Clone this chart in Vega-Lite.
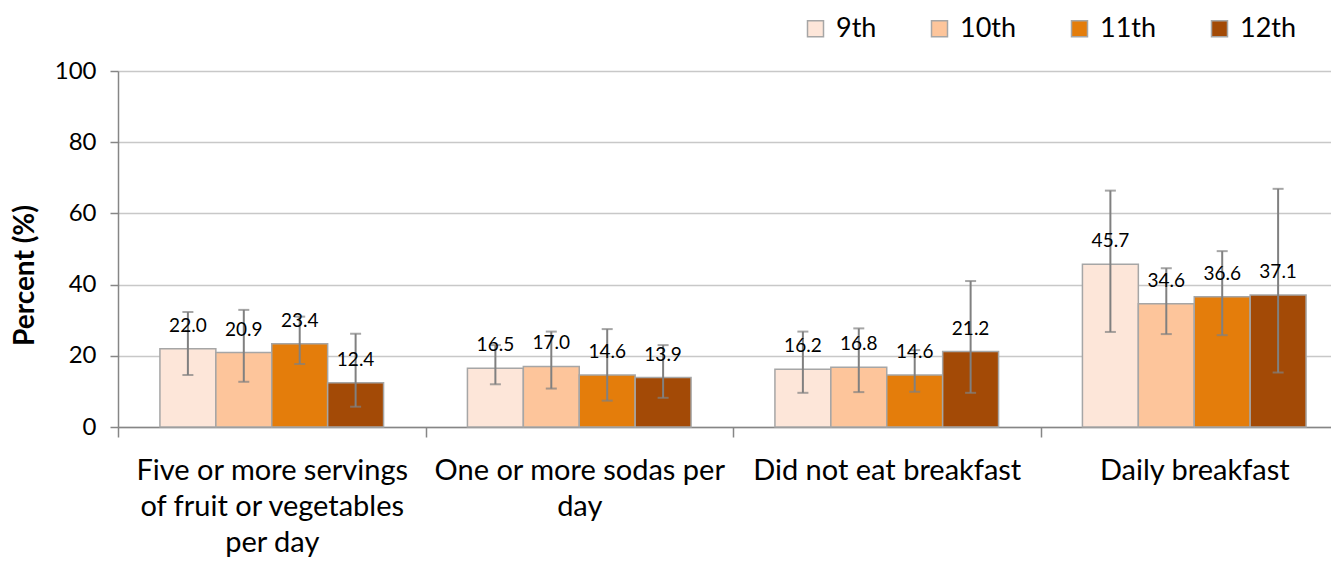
{
  "$schema": "https://vega.github.io/schema/vega-lite/v6.json",
  "width": 1213,
  "height": 356,
  "autosize": "none",
  "padding": {"left": 118, "top": 71, "right": 0, "bottom": 135},
  "background": "white",
  "config": {"view": {"stroke": null}, "font": "Lato"},
  "data": {
    "values": [
      {"cat": "Five or more servings of fruit or vegetables per day", "grade": "9th", "value": 22.0, "lo": 14.6, "hi": 32.3},
      {"cat": "Five or more servings of fruit or vegetables per day", "grade": "10th", "value": 20.9, "lo": 12.7, "hi": 32.9},
      {"cat": "Five or more servings of fruit or vegetables per day", "grade": "11th", "value": 23.4, "lo": 17.7, "hi": 31.0},
      {"cat": "Five or more servings of fruit or vegetables per day", "grade": "12th", "value": 12.4, "lo": 5.7, "hi": 26.2},
      {"cat": "One or more sodas per day", "grade": "9th", "value": 16.5, "lo": 12.0, "hi": 23.0},
      {"cat": "One or more sodas per day", "grade": "10th", "value": 17.0, "lo": 10.8, "hi": 26.8},
      {"cat": "One or more sodas per day", "grade": "11th", "value": 14.6, "lo": 7.4, "hi": 27.5},
      {"cat": "One or more sodas per day", "grade": "12th", "value": 13.9, "lo": 8.2, "hi": 23.0},
      {"cat": "Did not eat breakfast", "grade": "9th", "value": 16.2, "lo": 9.6, "hi": 26.8},
      {"cat": "Did not eat breakfast", "grade": "10th", "value": 16.8, "lo": 9.8, "hi": 27.7},
      {"cat": "Did not eat breakfast", "grade": "11th", "value": 14.6, "lo": 9.9, "hi": 21.6},
      {"cat": "Did not eat breakfast", "grade": "12th", "value": 21.2, "lo": 9.6, "hi": 41.0},
      {"cat": "Daily breakfast", "grade": "9th", "value": 45.7, "lo": 26.7, "hi": 66.4},
      {"cat": "Daily breakfast", "grade": "10th", "value": 34.6, "lo": 26.1, "hi": 44.6},
      {"cat": "Daily breakfast", "grade": "11th", "value": 36.6, "lo": 25.8, "hi": 49.4},
      {"cat": "Daily breakfast", "grade": "12th", "value": 37.1, "lo": 15.3, "hi": 66.9}
    ]
  },
  "encoding": {
    "x": {
      "field": "cat",
      "type": "nominal",
      "sort": ["Five or more servings of fruit or vegetables per day", "One or more sodas per day", "Did not eat breakfast", "Daily breakfast"],
      "scale": {"range": [0, 1230], "paddingInner": 0, "paddingOuter": 0},
      "axis": {
        "title": null,
        "labelAngle": 0,
        "labelFontSize": 29,
        "labelColor": "#000000",
        "labelLineHeight": 36,
        "labelPadding": 19,
        "labelBaseline": "top",
        "labelLimit": 0,
        "domainColor": "#868686",
        "domainWidth": 1.5,
        "tickColor": "#868686",
        "tickWidth": 1.5,
        "tickSize": 10,
        "tickBand": "extent",
        "grid": false,
        "labelExpr": "datum.value == 'Five or more servings of fruit or vegetables per day' ? ['Five or more servings', 'of fruit or vegetables', 'per day'] : datum.value == 'One or more sodas per day' ? ['One or more sodas per', 'day'] : datum.value"
      }
    },
    "xOffset": {
      "field": "grade",
      "type": "nominal",
      "sort": ["9th", "10th", "11th", "12th"],
      "scale": {"paddingInner": 0, "paddingOuter": 0.75}
    }
  },
  "layer": [
    {
      "mark": {"type": "bar", "stroke": "#a6a6a6", "strokeWidth": 1.5},
      "encoding": {
        "y": {
          "field": "value",
          "type": "quantitative",
          "scale": {"domain": [0, 100]},
          "axis": {
            "values": [0, 20, 40, 60, 80, 100],
            "title": "Percent (%)",
            "titleFontSize": 28,
            "titleFontWeight": "bold",
            "titleColor": "#000000",
            "titleX": -93,
            "titleY": 204,
            "titleAnchor": "middle",
            "titleBaseline": "middle",
            "labelFontSize": 24,
            "labelColor": "#000000",
            "labelPadding": 14,
            "domainColor": "#868686",
            "domainWidth": 1.5,
            "tickColor": "#868686",
            "tickWidth": 1.5,
            "tickSize": 8,
            "gridColor": "#c8c8c8",
            "gridWidth": 1.5
          }
        },
        "fill": {
          "field": "grade",
          "type": "nominal",
          "sort": ["9th", "10th", "11th", "12th"],
          "scale": {"domain": ["9th", "10th", "11th", "12th"], "range": ["#fde6d9", "#fdc59b", "#e47d0b", "#a34a06"]},
          "legend": {
            "title": null,
            "orient": "none",
            "direction": "horizontal",
            "legendX": 684,
            "legendY": -56,
            "symbolType": "square",
            "symbolSize": 256,
            "symbolStrokeColor": "#a6a6a6",
            "symbolStrokeWidth": 1.5,
            "labelFontSize": 27,
            "labelColor": "#000000",
            "labelOffset": 7,
            "columnPadding": 49
          }
        }
      }
    },
    {
      "mark": {"type": "rule", "color": "#808080", "strokeWidth": 2},
      "encoding": {
        "y": {"field": "lo", "type": "quantitative"},
        "y2": {"field": "hi"}
      }
    },
    {
      "mark": {"type": "tick", "color": "#808080", "thickness": 2, "size": 11, "orient": "horizontal"},
      "encoding": {"y": {"field": "lo", "type": "quantitative"}}
    },
    {
      "mark": {"type": "tick", "color": "#808080", "thickness": 2, "size": 11, "orient": "horizontal"},
      "encoding": {"y": {"field": "hi", "type": "quantitative"}}
    },
    {
      "mark": {"type": "text", "dy": -23, "fontSize": 19, "color": "#000000"},
      "encoding": {
        "y": {"field": "value", "type": "quantitative"},
        "text": {"field": "value", "type": "quantitative", "format": ".1f"}
      }
    }
  ]
}
